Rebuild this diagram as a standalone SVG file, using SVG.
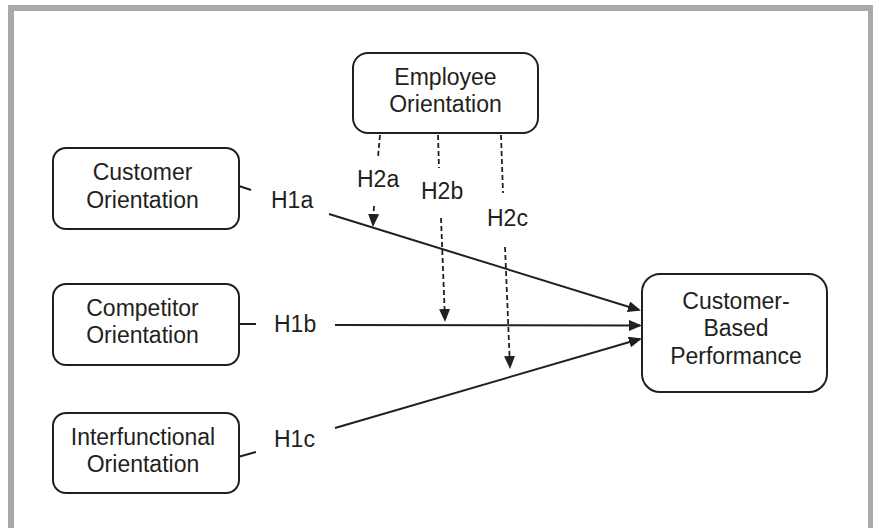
<svg xmlns="http://www.w3.org/2000/svg" width="873" height="528" viewBox="0 0 873 528">
<defs>
<style>
.box{fill:#fff;stroke:#231f20;stroke-width:2}
.t{font-family:"Liberation Sans",Arial,sans-serif;font-size:23px;fill:#231f20}
.m{text-anchor:middle}
.ln{stroke:#231f20;stroke-width:2;fill:none}
.ds{stroke:#231f20;stroke-width:1.8;fill:none;stroke-dasharray:5,3}
</style>
<marker id="ah" markerUnits="userSpaceOnUse" markerWidth="14" markerHeight="12" refX="11" refY="5.5" orient="auto">
<path d="M0,0 L13,5.5 L0,11 Z" fill="#231f20"/>
</marker>
</defs>
<rect width="873" height="528" fill="#fff"/>
<g id="frame" fill="#a7a9ac">
<rect x="8" y="5" width="865" height="6"/>
<rect x="8" y="5" width="6" height="523"/>
<rect x="868" y="5" width="5" height="523"/>
</g>
<g id="connectors">
<path class="ln" d="M239,186 L251,190"/>
<path class="ln" d="M329,214 L639,310" marker-end="url(#ah)"/>
<path class="ln" d="M238,324 L256,324"/>
<path class="ln" d="M335,325 L640,325.5" marker-end="url(#ah)"/>
<path class="ln" d="M238,457 L256,452"/>
<path class="ln" d="M335,428 L640,339" marker-end="url(#ah)"/>
<path class="ds" d="M380,135 L378,157"/>
<path class="ds" d="M374,206 L373,225" marker-end="url(#ah)"/>
<path class="ds" d="M438,135 L439,168"/>
<path class="ds" d="M441,218 L445,320" marker-end="url(#ah)"/>
<path class="ds" d="M501,135 L503,193"/>
<path class="ds" d="M505,247 L510,367" marker-end="url(#ah)"/>
</g>
<g id="labels" class="t">
<text x="271" y="208">H1a</text>
<text x="274" y="332">H1b</text>
<text x="274" y="447">H1c</text>
<text x="357" y="187">H2a</text>
<text x="421" y="199">H2b</text>
<text x="487" y="226">H2c</text>
</g>
<g id="employee">
<rect class="box" x="353" y="53" width="185" height="80" rx="15"/>
<text class="t m" x="445.5" y="85">Employee</text>
<text class="t m" x="445.5" y="112">Orientation</text>
</g>
<g id="customer">
<rect class="box" x="53" y="148" width="186" height="81" rx="13"/>
<text class="t m" x="142.5" y="180">Customer</text>
<text class="t m" x="142.5" y="208">Orientation</text>
</g>
<g id="competitor">
<rect class="box" x="53" y="284" width="186" height="81" rx="13"/>
<text class="t m" x="142.5" y="316">Competitor</text>
<text class="t m" x="142.5" y="343">Orientation</text>
</g>
<g id="interfunctional">
<rect class="box" x="53" y="413" width="186" height="80" rx="13"/>
<text class="t m" x="143" y="445">Interfunctional</text>
<text class="t m" x="143" y="472">Orientation</text>
</g>
<g id="performance">
<rect class="box" x="642" y="274" width="185" height="118" rx="18"/>
<text class="t m" x="736" y="309">Customer-</text>
<text class="t m" x="736" y="336">Based</text>
<text class="t m" x="736" y="364">Performance</text>
</g>
</svg>
